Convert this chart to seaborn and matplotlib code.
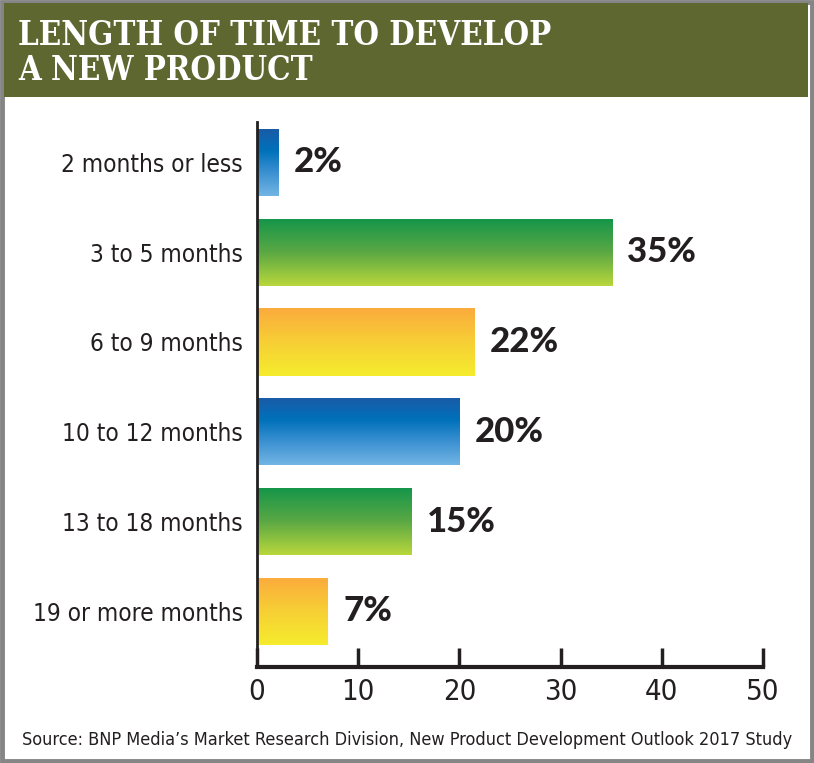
import numpy as np
import pandas as pd
import matplotlib
matplotlib.use("Agg")
import matplotlib.pyplot as plt
import seaborn as sns
from matplotlib.colors import LinearSegmentedColormap
from matplotlib.patches import Rectangle


# ==========================================
# DATA
# ==========================================

categories = [
    "2 months or less",
    "3 to 5 months",
    "6 to 9 months",
    "10 to 12 months",
    "13 to 18 months",
    "19 or more months",
]

share = [2.1, 35.1, 21.5, 20.0, 15.3, 7.0]

share_labels = ["2%", "35%", "22%", "20%", "15%", "7%"]

x_ticks = [0, 10, 20, 30, 40, 50]

title_lines = ["LENGTH OF TIME TO DEVELOP", "A NEW PRODUCT"]

source_text = (
    "Source: BNP Media\u2019s Market Research Division, "
    "New Product Development Outlook 2017 Study"
)


# ==========================================
# STYLE
# ==========================================

W, H = 814, 763

blue = ["#1b5aa6", "#0071bb", "#3d92d2", "#72b5e4"]
green = ["#13954a", "#5aa844", "#b9d73c"]
orange = ["#fbab3d", "#f7cf35", "#f5ec2d"]
gradients = [blue, green, orange, blue, green, orange]

text_dark = "#231f20"
narrow = dict(family="DejaVu Sans", stretch="condensed")

sns.set_theme(style="white")
plt.rcParams["font.family"] = ["DejaVu Sans"]

fig = plt.figure(figsize=(W / 100, H / 100), dpi=100)
fig.patch.set_facecolor("white")

# outer frame and title banner
fig.add_artist(Rectangle((2 / W, 2 / H), 1 - 4 / W, 1 - 4 / H,
                         transform=fig.transFigure, fill=False,
                         edgecolor="#858585", linewidth=3.5))
fig.add_artist(Rectangle((4 / W, 1 - 97 / H), 1 - 10 / W, 94 / H,
                         transform=fig.transFigure, facecolor="#5f6731",
                         edgecolor="none"))

title_font = dict(family="DejaVu Serif", stretch="condensed",
                  weight="bold", fontsize=23.6)

fig.text(18 / W, 1 - 45 / H, title_lines[0], color="white",
         va="baseline", ha="left", **title_font)
fig.text(18 / W, 1 - 80 / H, title_lines[1], color="white",
         va="baseline", ha="left", **title_font)


# ==========================================
# BAR CHART
# ==========================================

ax = fig.add_axes([257 / W, 96 / H, 506 / W, 545 / H])

df = pd.DataFrame({"category": categories, "share": share})

sns.barplot(data=df, x="share", y="category", orient="h",
            width=0.75, color="white", ax=ax)

for patch, cols in zip(ax.patches, gradients):
    x0, y0 = patch.get_x(), patch.get_y()
    w, h = patch.get_width(), patch.get_height()
    cmap = LinearSegmentedColormap.from_list("g", cols)
    grad = np.linspace(0, 1, 256).reshape(-1, 1)
    img = ax.imshow(grad, cmap=cmap, aspect="auto", origin="upper",
                    extent=(x0, x0 + w, y0 + h, y0), zorder=2)
    img.set_clip_path(patch)
    patch.set_facecolor("none")
    patch.set_edgecolor("none")

for i, (val, lab) in enumerate(zip(share, share_labels)):
    ax.text(val + 1.5, i, lab, va="center", ha="left",
            fontsize=25, weight=900, family="Lato", color=text_dark)

ax.set_xlim(0, 50)
ax.set_ylim(5.62, -0.45)
ax.set_xticks(x_ticks)
ax.set_xticklabels([str(t) for t in x_ticks], fontsize=21,
                   color=text_dark, **narrow)
ax.set_yticklabels(categories, fontsize=17.5, color=text_dark, **narrow)
ax.set_xlabel("")
ax.set_ylabel("")

ax.tick_params(axis="x", direction="in", length=14, width=2.5,
               color=text_dark, pad=8, bottom=True)
ax.tick_params(axis="y", length=0, pad=10)

for side in ["top", "right"]:
    ax.spines[side].set_visible(False)
ax.spines["left"].set_color(text_dark)
ax.spines["left"].set_linewidth(2)
ax.spines["bottom"].set_color(text_dark)
ax.spines["bottom"].set_linewidth(3)

fig.text(22 / W, 1 - 740 / H, source_text, fontsize=13,
         color=text_dark, va="center", ha="left", **narrow)

fig.savefig("out.png", dpi=100, facecolor="white")
